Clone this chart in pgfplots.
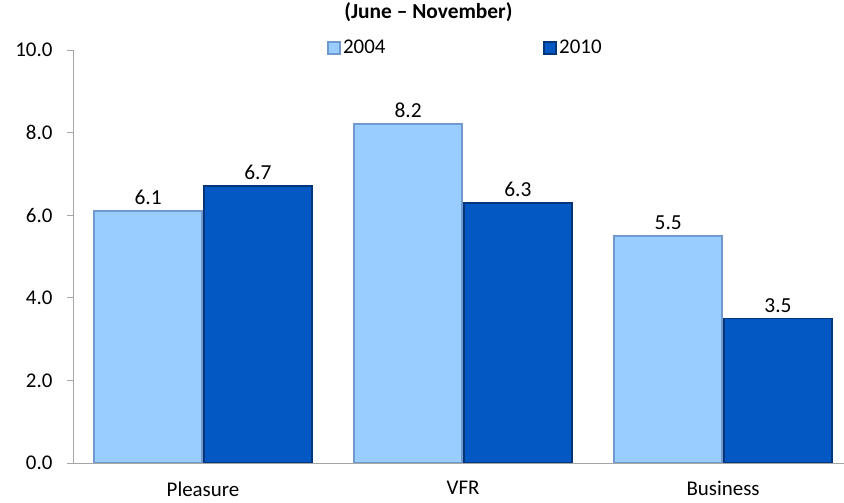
\documentclass[border=0pt]{standalone}
\usepackage{pgfplots}
\pgfplotsset{compat=1.18}
\usepackage{fontspec}
\setmainfont{Carlito}
\definecolor{lightbar}{HTML}{99CCFF}
\definecolor{lightedge}{HTML}{7099CF}
\definecolor{darkbar}{HTML}{0458C4}
\definecolor{darkedge}{HTML}{02357A}
\definecolor{axgray}{HTML}{A6A6A6}
\begin{document}
\begin{tikzpicture}[x=1bp,y=1bp]
\path[use as bounding box] (0,0) rectangle (844,503);
\begin{axis}[
  at={(73bp,40bp)}, anchor=south west,
  scale only axis, width=771bp, height=413bp,
  xmin=-0.5, xmax=2.465, ymin=0, ymax=10,
  axis x line*=bottom, axis y line*=left,
  axis line style={axgray, line width=0.8pt, -},
  ybar, bar width=0.415,
  ytick={0,2,4,6,8,10},
  yticklabel style={/pgf/number format/fixed, /pgf/number format/fixed zerofill, /pgf/number format/precision=1, xshift=-11bp},
  /pgf/number format/assume math mode=true,
  tick align=outside, major tick length=6bp,
  tick style={axgray, line width=0.8pt},
  xtick={0,1,2}, xticklabels={Pleasure,VFR,Business},
  xtick style={draw=none},
  extra x ticks={-0.5,0.5,1.5}, extra x tick labels={},
  extra x tick style={tick style={axgray, line width=0.8pt}, major tick length=6bp},
  ticklabel style={font=\fontsize{21}{25}\selectfont},
  xticklabel style={yshift=-9bp},
  nodes near coords,
  nodes near coords style={font=\fontsize{21.5}{25}\selectfont, /pgf/number format/fixed, /pgf/number format/fixed zerofill, /pgf/number format/precision=1, yshift=2bp},
  title={\bfseries (June – November)},
  title style={at={(axis description cs:0.461,1.077)}, anchor=center, font=\fontsize{21.5}{24}\selectfont},
  legend columns=2,
  legend style={draw=none, fill=none, at={(axis description cs:0.509,1.005)}, anchor=center, font=\fontsize{21}{24}\selectfont, /tikz/every even column/.append style={column sep=156bp}},
  legend image code/.code={\draw[#1] (0bp,-6bp) rectangle (12bp,6bp);},
]
\addplot[fill=lightbar, draw=lightedge, line width=1.8pt, bar shift=-0.211] coordinates {(0,6.1) (1,8.2) (2,5.5)};
\addplot[fill=darkbar, draw=darkedge, line width=1.8pt, bar shift=0.211] coordinates {(0,6.7) (1,6.3) (2,3.5)};
\legend{2004,2010}
\end{axis}
\end{tikzpicture}
\end{document}
